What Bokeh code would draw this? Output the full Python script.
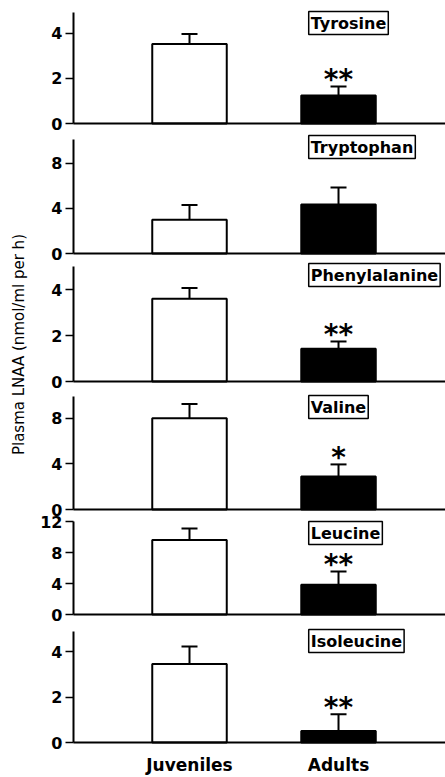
import numpy as np
from bokeh.plotting import figure
from bokeh.models import (Range1d, FixedTicker, Whisker, TeeHead, Label, ColumnDataSource,
                          LinearAxis)
from bokeh.layouts import row
from bokeh.embed import file_html
from bokeh.resources import INLINE
from bokeh.core.properties import value

# ---------------- data ----------------
groups = ["Juveniles", "Adults"]
amino_acids = ["Tyrosine", "Tryptophan", "Phenylalanine", "Valine", "Leucine", "Isoleucine"]
juvenile_mean = [3.53, 3.0, 3.6, 8.0, 9.6, 3.45]
juvenile_sem = [0.44, 1.3, 0.47, 1.24, 1.5, 0.77]
adult_mean = [1.24, 4.35, 1.42, 2.9, 3.85, 0.51]
adult_sem = [0.40, 1.5, 0.32, 1.05, 1.7, 0.73]
significance = ["**", "", "**", "*", "**", "**"]
y_max = [4.93, 10.1, 5.0, 9.9, 12.0, 4.88]
y_ticks = [[0, 2, 4], [0, 4, 8], [0, 2, 4], [0, 4, 8], [0, 4, 8, 12], [0, 2, 4]]
y_label = "Plasma LNAA (nmol/ml per h)"

# ---------------- layout (px, page coordinates) ----------------
W, H = 445, 777
LABEL_W = 28
AXIS_X = 73                                     # page x of the y axes
FRAME_TOP, FRAME_BOTTOM = 8, 754
panel_top = [12, 139, 266, 396, 521, 631]       # pixel of the axis top
panel_base = [123, 253, 381, 509, 614, 742]     # pixel of the zero line
box_shift = [-1, -4, -3, -1, 0, -2]             # label-box anchor, px below panel top

FONT = "DejaVu Sans"
x_pos = [i + 1 for i in range(len(groups))]
X0, X1 = 0.2215, 2.718                          # data x at the y axis and at the right edge
px_per_x = (W - AXIS_X) / (X1 - X0)
XS = X0 - (AXIS_X - LABEL_W) / px_per_x         # frame starts right after the label strip

p = figure(width=W - LABEL_W, height=H, output_backend="svg", toolbar_location=None,
           x_range=Range1d(XS, X1), y_range=Range1d(0, 1),
           min_border_left=0, min_border_right=0,
           min_border_top=FRAME_TOP, min_border_bottom=H - FRAME_BOTTOM)
p.outline_line_color = None
p.grid.visible = False
p.yaxis.visible = False

for k, name in enumerate(amino_acids):
    rn = f"p{k}"
    ppu = (panel_base[k] - panel_top[k]) / y_max[k]
    start = -(FRAME_BOTTOM - panel_base[k]) / ppu
    end = y_max[k] + (panel_top[k] - FRAME_TOP) / ppu
    p.extra_y_ranges[rn] = Range1d(start, end)

    src = ColumnDataSource(dict(
        x=x_pos,
        top=[juvenile_mean[k], adult_mean[k]],
        upper=[juvenile_mean[k] + juvenile_sem[k], adult_mean[k] + adult_sem[k]],
        fill=["white", "black"],
    ))
    p.vbar(x="x", top="top", bottom=0, width=0.5, source=src, y_range_name=rn,
           fill_color="fill", line_color="black", line_width=2)
    p.add_layout(Whisker(base="x", lower="top", upper="upper", source=src, y_range_name=rn,
                         line_width=2, line_color="black", lower_head=None,
                         upper_head=TeeHead(size=16, line_width=2, line_color="black")))

    if significance[k]:
        p.text(x=[x_pos[1]], y=[adult_mean[k] + adult_sem[k]], text=[significance[k]],
               y_range_name=rn, text_align="center", text_baseline="alphabetic", y_offset=-7,
               text_font=value(FONT), text_font_style="bold", text_font_size="28px",
               text_color="black")

    p.add_layout(Label(x=1.80, y=y_max[k] - box_shift[k] / ppu,
                       y_range_name=rn, text=name,
                       text_align="left", text_baseline="top", text_color="black",
                       text_font=FONT, text_font_style="bold", text_font_size="16px",
                       border_line_color="black", border_line_width=1.5,
                       background_fill_color="white", padding=2))

    # zero line of the panel
    zax = LinearAxis(y_range_name=rn, fixed_location=0, bounds=(X0, X1),
                     ticker=FixedTicker(ticks=[]))
    zax.axis_line_width = 2
    zax.major_tick_line_color = None
    zax.minor_tick_line_color = None
    zax.major_label_text_font_size = "0px"
    p.add_layout(zax, "below")

    # y axis of the panel
    yax = LinearAxis(y_range_name=rn, fixed_location=X0, bounds=(0, y_max[k]),
                     ticker=FixedTicker(ticks=y_ticks[k]))
    yax.minor_tick_line_color = None
    yax.major_tick_in = 0
    yax.major_tick_out = 8
    yax.major_tick_line_width = 1.5
    yax.axis_line_width = 2
    yax.major_label_standoff = 3
    yax.major_label_text_font = FONT
    yax.major_label_text_font_style = "bold"
    yax.major_label_text_font_size = "16px"
    yax.major_label_text_color = "black"
    p.add_layout(yax, "left")

# bottom axis carrying only the group names
xax = p.xaxis[0]
xax.ticker = FixedTicker(ticks=x_pos)
xax.major_label_overrides = {x: g for x, g in zip(x_pos, groups)}
xax.axis_line_color = None
xax.major_tick_line_color = None
xax.minor_tick_line_color = None
xax.major_tick_out = 0
xax.major_tick_in = 0
xax.major_label_standoff = 12 - (FRAME_BOTTOM - panel_base[-1])
xax.major_label_text_font = FONT
xax.major_label_text_font_style = "bold"
xax.major_label_text_font_size = "17px"
xax.major_label_text_color = "black"

lab = figure(width=LABEL_W, height=H, output_backend="svg", toolbar_location=None,
             x_range=Range1d(0, LABEL_W), y_range=Range1d(0, H), min_border=0)
lab.axis.visible = False
lab.grid.visible = False
lab.outline_line_color = None
lab.text(x=[18], y=[H - 350], text=[y_label], angle=np.pi / 2,
         text_align="center", text_baseline="middle",
         text_font=value(FONT), text_font_size="15px", text_color="black")

layout = row(lab, p, spacing=0)
open("out.html", "w").write(file_html(layout, INLINE))
